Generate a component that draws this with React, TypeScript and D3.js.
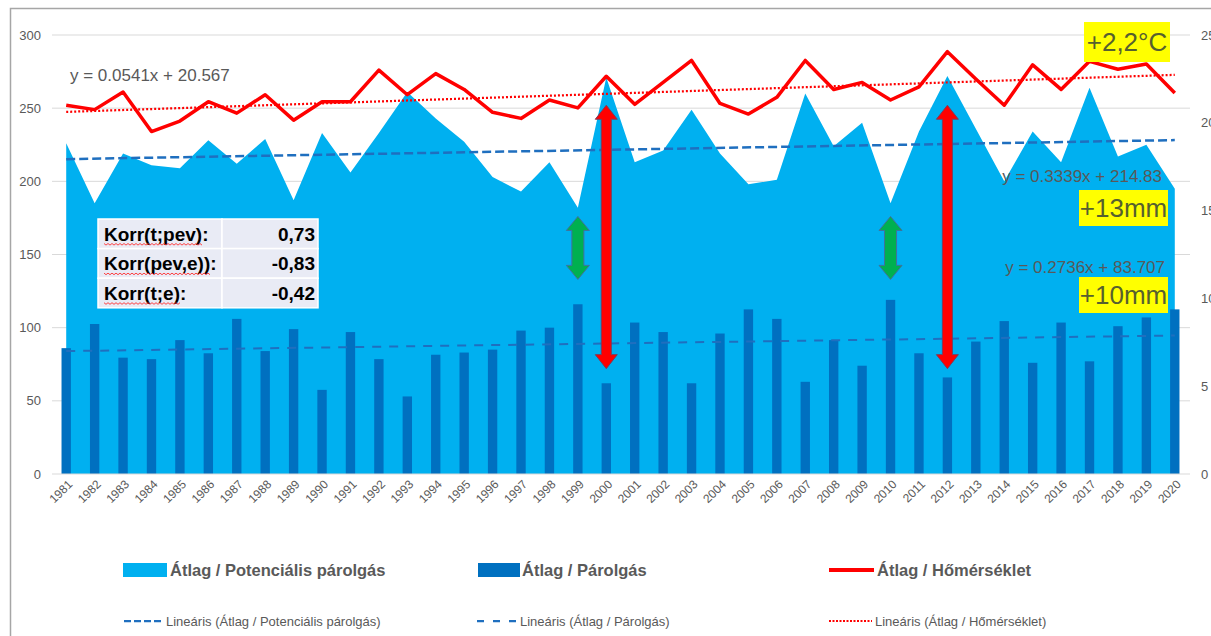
import React, { useEffect, useRef } from 'react';
import * as d3 from 'd3';

// categories
const years = d3.range(1981, 2021).map(String);

// Átlag / Potenciális párolgás (mm, left axis)
const potEvap = [226, 185, 219, 211, 209, 228, 212, 229, 187, 233, 206, 233, 261, 243, 227, 203, 193, 213, 182, 271,
  213, 221, 249, 219, 198, 201, 260, 224, 240, 185, 234, 272, 236, 200, 234, 213, 264, 217, 225, 195];
// Átlag / Párolgás (mm, left axis)
const evap = [86, 102.5, 79.5, 78.5, 91.5, 82.5, 106, 84, 99, 57.5, 97, 78.5, 53, 81.5, 83, 85, 98, 100, 116, 62,
  103.5, 97, 62, 96, 112.5, 106, 63, 91.5, 74, 119, 82.5, 66, 90.5, 104.5, 76, 103.5, 77, 101, 107, 112.5];
// Átlag / Hőmérséklet (°C, right axis)
const temp = [21.0, 20.75, 21.75, 19.5, 20.1, 21.2, 20.55, 21.6, 20.15, 21.2, 21.2, 23.0, 21.6, 22.8, 21.9, 20.6, 20.25, 21.3, 20.85, 22.65,
  21.05, 22.3, 23.55, 21.1, 20.5, 21.45, 23.55, 21.9, 22.3, 21.3, 22.05, 24.05, 22.5, 21.0, 23.3, 21.9, 23.5, 23.05, 23.35, 21.7];

const leftTicks = [0, 50, 100, 150, 200, 250, 300];
const rightTicks = [0, 5, 10, 15, 20, 25];

// linear trends [slope, intercept], x = 1..40
const trendPotEvap = [0.3339, 214.83];
const trendEvap = [0.2736, 83.707];
const trendTemp = [0.0541, 20.567];

const corrLabels = ['Korr(t;pev):', 'Korr(pev,e)):', 'Korr(t;e):'];
const corrValues = ['0,73', '-0,83', '-0,42'];

// annotation arrows (year, value range on left axis)
const redArrowYears = ['2000', '2012'];
const redArrowRange = [72, 252];
const greenArrowYears = ['1999', '2010'];
const greenArrowRange = [133, 176];

const FONT = '"Liberation Sans", Arial, sans-serif';
const GRAY = '#595959';
const LIGHT_BLUE = '#00B0F0';
const DARK_BLUE = '#0070C0';
const TREND_BLUE = '#1F6FBF';
const RED = '#FF0000';

const App = () => {
  const svgRef = useRef(null);

  useEffect(() => {
    const svg = d3.select(svgRef.current);
    svg.selectAll('*').remove();

    const x = d3.scaleBand().domain(years).range([52, 1189]).padding(0);
    const cx = (d: string) => (x(d) as number) + x.bandwidth() / 2;
    const yL = d3.scaleLinear().domain([0, 300]).range([474, 35]);
    const yR = d3.scaleLinear().domain([0, 25]).range([474, 35]);

    // chart frame
    svg.append('rect')
      .attr('x', 10.5).attr('y', 8.5)
      .attr('width', 1400).attr('height', 800)
      .attr('fill', 'none')
      .attr('stroke', '#a6a6a6')
      .attr('stroke-width', 1.5);

    // gridlines
    svg.append('g').selectAll('line')
      .data(leftTicks.slice(1))
      .join('line')
      .attr('x1', 52).attr('x2', 1190)
      .attr('y1', d => yL(d)).attr('y2', d => yL(d))
      .attr('stroke', '#d9d9d9').attr('stroke-width', 1);

    // left axis labels
    svg.append('g').selectAll('text')
      .data(leftTicks)
      .join('text')
      .attr('x', 41).attr('y', d => yL(d))
      .attr('dy', '0.35em')
      .attr('text-anchor', 'end')
      .style('font', `13px ${FONT}`)
      .style('fill', GRAY)
      .text(d => d);

    // right axis labels (clipped by the frame edge, as in the original)
    svg.append('g').selectAll('text')
      .data(rightTicks)
      .join('text')
      .attr('x', 1201).attr('y', d => yR(d))
      .attr('dy', '0.35em')
      .attr('text-anchor', 'start')
      .style('font', `13px ${FONT}`)
      .style('fill', GRAY)
      .text(d => d);

    // area: potential evaporation
    const area = d3.area<number>()
      .x((d, i) => cx(years[i]))
      .y0(yL(0))
      .y1(d => yL(d));
    svg.append('path').datum(potEvap).attr('d', area).attr('fill', LIGHT_BLUE);

    // bars: evaporation
    const bw = x.bandwidth() * 0.33;
    svg.append('g').selectAll('rect')
      .data(evap)
      .join('rect')
      .attr('x', (d, i) => cx(years[i]) - bw / 2)
      .attr('y', d => yL(d))
      .attr('width', bw)
      .attr('height', d => yL(0) - yL(d))
      .attr('fill', DARK_BLUE);

    // category axis line
    svg.append('line')
      .attr('x1', 52).attr('x2', 1190)
      .attr('y1', yL(0)).attr('y2', yL(0))
      .attr('stroke', '#d9d9d9').attr('stroke-width', 1);

    // year labels
    svg.append('g').selectAll('text')
      .data(years)
      .join('text')
      .attr('transform', d => `translate(${cx(d) + 4},${482}) rotate(-45)`)
      .attr('dy', '0.35em')
      .attr('text-anchor', 'end')
      .style('font', `12px ${FONT}`)
      .style('fill', GRAY)
      .text(d => d);

    // temperature line
    const tempLine = d3.line<number>()
      .x((d, i) => cx(years[i]))
      .y(d => yR(d));
    svg.append('path').datum(temp)
      .attr('d', tempLine)
      .attr('fill', 'none')
      .attr('stroke', RED)
      .attr('stroke-width', 3.5)
      .attr('stroke-linejoin', 'round');

    // trend lines
    const trendPath = (coef: number[], scale: d3.ScaleLinear<number, number>) => {
      const pts = years.map((yr, i) => [cx(yr), scale(coef[0] * (i + 1) + coef[1])] as [number, number]);
      return d3.line()([pts[0], pts[pts.length - 1]]);
    };
    svg.append('path').attr('d', trendPath(trendPotEvap, yL))
      .attr('fill', 'none').attr('stroke', TREND_BLUE)
      .attr('stroke-width', 2.5).attr('stroke-dasharray', '9 4');
    svg.append('path').attr('d', trendPath(trendEvap, yL))
      .attr('fill', 'none').attr('stroke', TREND_BLUE)
      .attr('stroke-width', 2).attr('stroke-dasharray', '9 8');
    svg.append('path').attr('d', trendPath(trendTemp, yR))
      .attr('fill', 'none').attr('stroke', RED)
      .attr('stroke-width', 2.25).attr('stroke-dasharray', '2 2');

    // double arrows
    const dblArrow = (c: number, y1: number, y2: number, s: number, h: number, L: number) =>
      `M${c},${y1}L${c + h},${y1 + L}L${c + s},${y1 + L}L${c + s},${y2 - L}L${c + h},${y2 - L}L${c},${y2}` +
      `L${c - h},${y2 - L}L${c - s},${y2 - L}L${c - s},${y1 + L}L${c - h},${y1 + L}Z`;

    svg.append('g').selectAll('path')
      .data(greenArrowYears)
      .join('path')
      .attr('d', d => dblArrow(cx(d), yL(greenArrowRange[1]), yL(greenArrowRange[0]), 6, 11.5, 14))
      .attr('fill', '#00B050')
      .attr('stroke', '#41719C')
      .attr('stroke-width', 1);

    svg.append('g').selectAll('path')
      .data(redArrowYears)
      .join('path')
      .attr('d', d => dblArrow(cx(d), yL(redArrowRange[1]), yL(redArrowRange[0]), 5, 11, 14))
      .attr('fill', RED)
      .attr('stroke', '#7a3d5c')
      .attr('stroke-width', 1);

    // correlation table
    const tbl = svg.append('g');
    const rowH = 29.6;
    corrLabels.forEach((lab, i) => {
      const top = 219 + i * rowH;
      tbl.append('rect').attr('x', 98).attr('y', top).attr('width', 124).attr('height', rowH)
        .attr('fill', '#E9EBF5').attr('stroke', '#ffffff').attr('stroke-width', 1.5);
      tbl.append('rect').attr('x', 222).attr('y', top).attr('width', 96).attr('height', rowH)
        .attr('fill', '#E9EBF5').attr('stroke', '#ffffff').attr('stroke-width', 1.5);
      const t = tbl.append('text')
        .attr('x', 104).attr('y', top + rowH / 2 + 7)
        .style('font', `bold 19px ${FONT}`)
        .style('fill', '#000')
        .text(lab);
      tbl.append('text')
        .attr('x', 315).attr('y', top + rowH / 2 + 7)
        .attr('text-anchor', 'end')
        .style('font', `bold 19px ${FONT}`)
        .style('fill', '#000')
        .text(corrValues[i]);
      // spell-check wavy underline
      const node = t.node() as SVGTextElement;
      const len = node.getSubStringLength(0, lab.length - 1);
      const yb = top + rowH / 2 + 10;
      const zig = d3.range(0, Math.floor(len / 2) + 1).map(k => [104 + k * 2, yb + (k % 2 ? 1.3 : -0.3)] as [number, number]);
      tbl.append('path').attr('d', d3.line()(zig))
        .attr('fill', 'none').attr('stroke', '#ff3030').attr('stroke-width', 0.9);
    });

    // trend equations
    const eq = (txt: string, xx: number, yy: number, anchor: string) =>
      svg.append('text').attr('x', xx).attr('y', yy)
        .attr('text-anchor', anchor)
        .style('font', `17px ${FONT}`)
        .style('fill', GRAY)
        .text(txt);
    eq(`y = ${trendTemp[0]}x + ${trendTemp[1]}`, 70, 81, 'start');
    eq(`y = ${trendPotEvap[0]}x + ${trendPotEvap[1]}`, 1162, 182, 'end');
    eq(`y = ${trendEvap[0]}x + ${trendEvap[1]}`, 1165, 273, 'end');

    // yellow highlight labels
    const badge = (txt: string, x0: number, y0: number, w: number, h: number) => {
      svg.append('rect').attr('x', x0).attr('y', y0).attr('width', w).attr('height', h).attr('fill', '#FFFF00');
      svg.append('text').attr('x', x0 + w / 2).attr('y', y0 + h / 2)
        .attr('dy', '0.36em')
        .attr('text-anchor', 'middle')
        .style('font', `26px ${FONT}`)
        .style('fill', '#56602f')
        .text(txt);
    };
    badge('+2,2°C', 1084, 22, 86, 40);
    badge('+13mm', 1079, 190, 89, 36);
    badge('+10mm', 1079, 277, 89, 36);

    // legend row 1
    const lg = svg.append('g');
    lg.append('rect').attr('x', 123).attr('y', 563).attr('width', 44).attr('height', 14).attr('fill', LIGHT_BLUE);
    lg.append('rect').attr('x', 478).attr('y', 563).attr('width', 42).attr('height', 14).attr('fill', DARK_BLUE);
    lg.append('line').attr('x1', 829).attr('x2', 874).attr('y1', 570).attr('y2', 570)
      .attr('stroke', RED).attr('stroke-width', 4);
    [['Átlag / Potenciális párolgás', 170], ['Átlag / Párolgás', 522], ['Átlag / Hőmérséklet', 877]].forEach(([t, xx]) => {
      lg.append('text').attr('x', xx).attr('y', 570).attr('dy', '0.36em')
        .style('font', `bold 16.5px ${FONT}`).style('fill', GRAY).text(t as string);
    });

    // legend row 2
    lg.append('line').attr('x1', 124).attr('x2', 163).attr('y1', 621).attr('y2', 621)
      .attr('stroke', TREND_BLUE).attr('stroke-width', 2.25).attr('stroke-dasharray', '7 3');
    lg.append('line').attr('x1', 477).attr('x2', 518).attr('y1', 621).attr('y2', 621)
      .attr('stroke', TREND_BLUE).attr('stroke-width', 2.25).attr('stroke-dasharray', '7 9');
    lg.append('line').attr('x1', 829).attr('x2', 872).attr('y1', 621).attr('y2', 621)
      .attr('stroke', RED).attr('stroke-width', 2).attr('stroke-dasharray', '2 1.5');
    [['Lineáris (Átlag / Potenciális párolgás)', 166], ['Lineáris (Átlag / Párolgás)', 520], ['Lineáris (Átlag / Hőmérséklet)', 875]].forEach(([t, xx]) => {
      lg.append('text').attr('x', xx).attr('y', 621).attr('dy', '0.36em')
        .style('font', `13px ${FONT}`).style('fill', GRAY).text(t as string);
    });
  }, []);

  return (
    <svg
      ref={svgRef}
      width={1211}
      height={636}
      style={{ position: 'absolute', left: 0, top: 0, background: '#ffffff' }}
    />
  );
};

export default App;
